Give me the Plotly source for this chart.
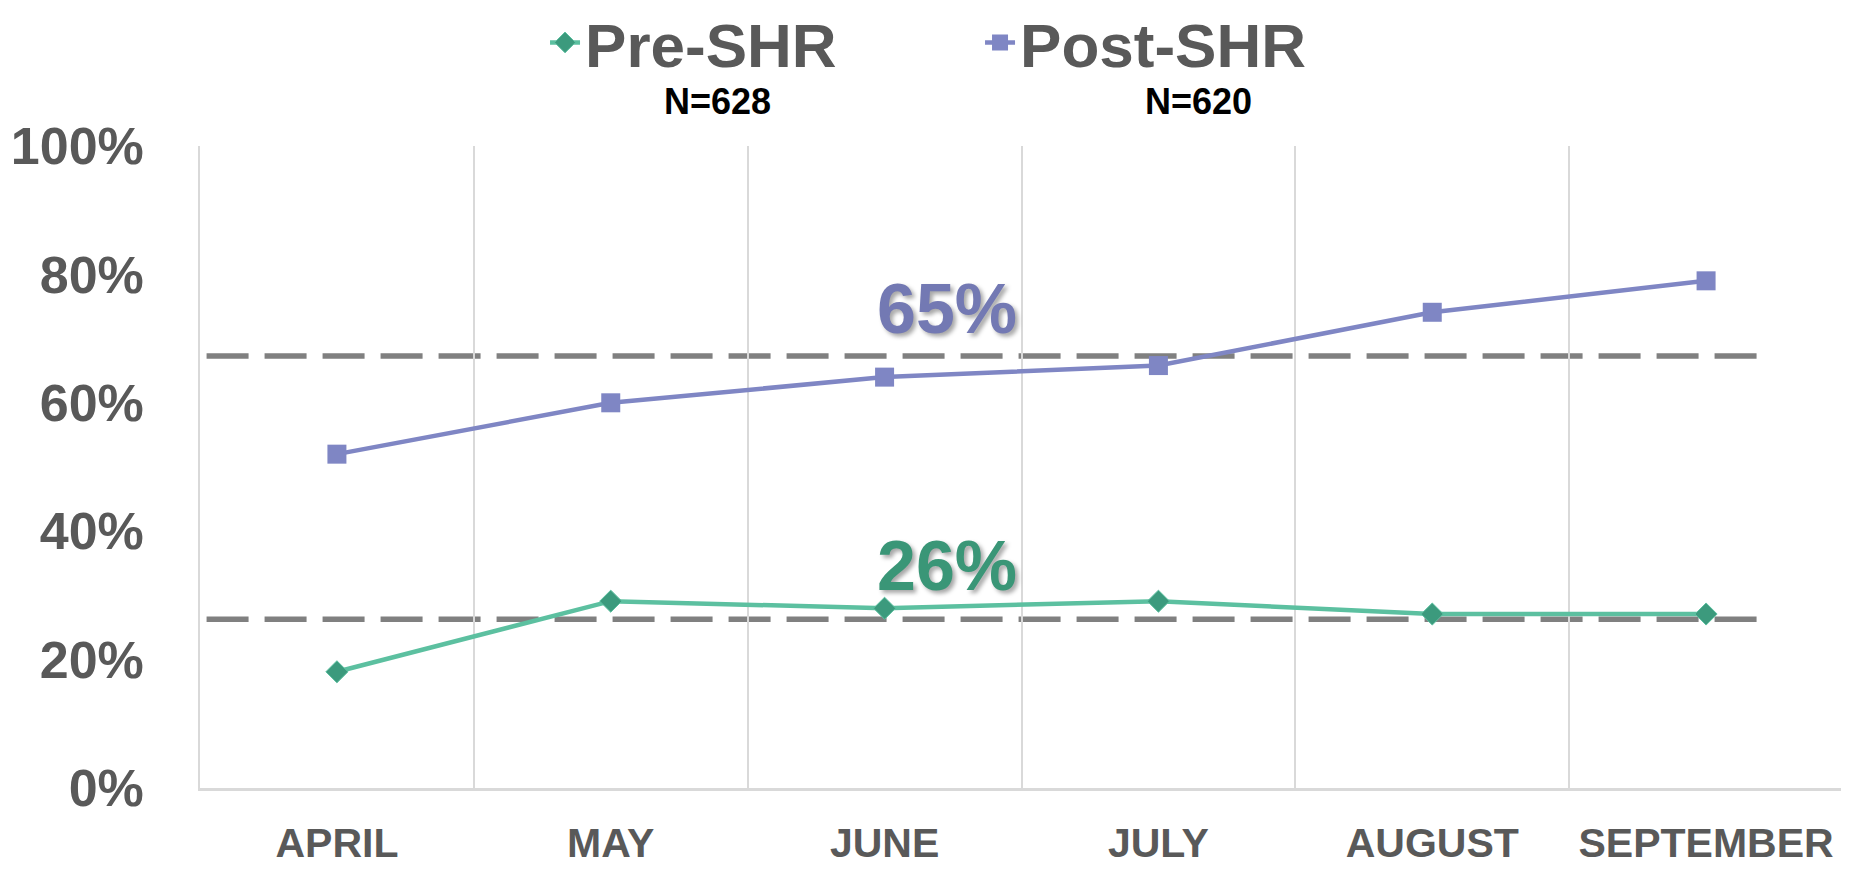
import plotly.graph_objects as go

months = ["APRIL", "MAY", "JUNE", "JULY", "AUGUST", "SEPTEMBER"]
pre_shr = [18.1, 29.1, 28.0, 29.1, 27.1, 27.1]
post_shr = [52.0, 60.0, 64.0, 65.8, 74.1, 79.0]
series_names = ["Pre-SHR", "Post-SHR"]
sample_sizes = ["N=628", "N=620"]
ref_levels = [26.3, 67.3]
ref_labels = ["26%", "65%"]
y_ticks = [0, 20, 40, 60, 80, 100]
y_tick_text = ["0%", "20%", "40%", "60%", "80%", "100%"]

GREY = "#595959"
FONT = "Liberation Sans, Arial, sans-serif"

pre_line = "#5CC0A0"
pre_mark = "#3C9A7D"
post_col = "#7F86C4"

fig = go.Figure()
fig.add_trace(go.Scatter(
    x=months, y=pre_shr, name=series_names[0], mode="lines+markers",
    line=dict(color=pre_line, width=4.5),
    marker=dict(symbol="diamond", size=17, color=pre_mark, line=dict(color=pre_line, width=1)),
))
fig.add_trace(go.Scatter(
    x=months, y=post_shr, name=series_names[1], mode="lines+markers",
    line=dict(color=post_col, width=4.5),
    marker=dict(symbol="square", size=19, color=post_col),
))

for lvl in ref_levels:
    fig.add_shape(type="line", xref="paper", yref="y", x0=0.004, x1=0.9556, y0=lvl, y1=lvl,
                  line=dict(color="#808080", width=5.5, dash="42px,16px"), layer="below")

label_colors = ["#3A9677", "#7379B3"]
label_y = [34.6, 74.6]
for txt, col, yy in zip(ref_labels, label_colors, label_y):
    fig.add_annotation(text=txt, x=0.4547, xref="paper", y=yy, yref="y",
                       showarrow=False, xanchor="center", yanchor="middle",
                       font=dict(family=FONT, size=70, weight="bold", color=col,
                                 shadow="3px 3px 4px rgba(0,0,0,0.35)"))

for txt, xx in zip(sample_sizes, [0.3147, 0.608]):
    fig.add_annotation(text=txt, x=xx, xref="paper", y=1.070, yref="paper",
                       showarrow=False, xanchor="center", yanchor="middle",
                       font=dict(family=FONT, size=36, weight="bold", color="black"))

fig.update_layout(
    width=1841, height=861,
    margin=dict(l=192, r=6, t=138, b=81, autoexpand=False),
    paper_bgcolor="white", plot_bgcolor="white",
    showlegend=True,
    legend=dict(orientation="h", x=0.210, xanchor="left", y=1.161, yanchor="middle",
                font=dict(family=FONT, size=62, weight="bold", color=GREY),
                bgcolor="rgba(0,0,0,0)", itemwidth=30, entrywidth=390, tracegroupgap=0),
    xaxis=dict(type="category", categoryorder="array", categoryarray=months,
               range=[-0.5, 5.5], tickson="boundaries", showgrid=True, automargin=False,
               gridcolor="#d9d9d9", gridwidth=1.5, showline=True, linecolor="#d9d9d9",
               linewidth=2.5, ticks="", ticklabelstandoff=17, tickangle=0,
               tickfont=dict(family=FONT, size=41, weight="bold", color=GREY), fixedrange=True),
    yaxis=dict(range=[0, 100], tickvals=y_ticks, ticktext=y_tick_text, showgrid=False,
               zeroline=False, showline=True, linecolor="#d9d9d9", linewidth=1.5, mirror=True,
               ticks="", ticklabelstandoff=44, automargin=False,
               tickfont=dict(family=FONT, size=52, weight="bold", color=GREY), fixedrange=True),
)

fig.write_html("out.html")
